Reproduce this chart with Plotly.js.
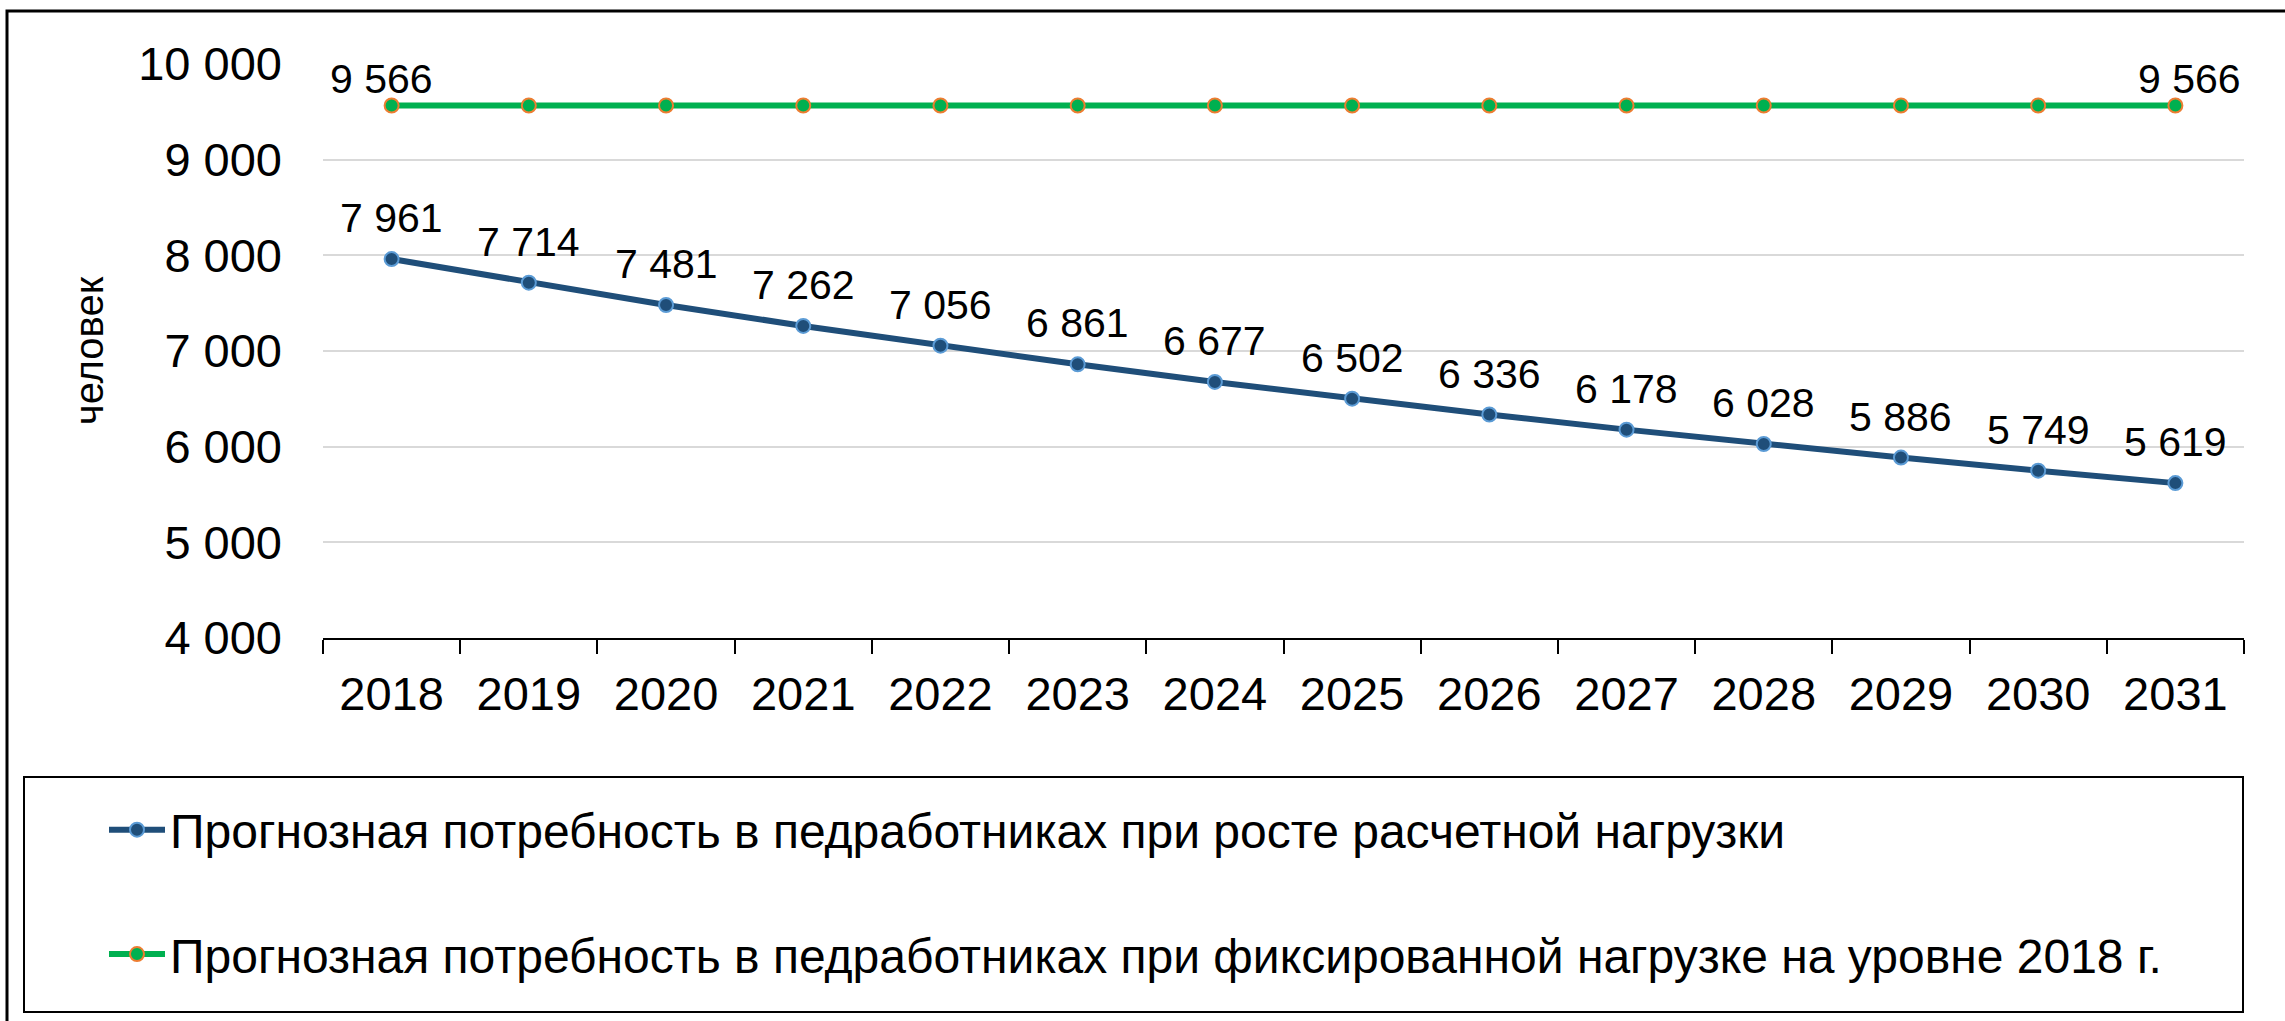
<!DOCTYPE html>
<html>
<head>
<meta charset="utf-8">
<script src="https://cdn.plot.ly/plotly-3.0.1.min.js"></script>
<style>html,body{margin:0;padding:0;background:#fff;}#chart{width:2285px;height:1021px;}</style>
</head>
<body>
<div id="chart"></div>
<script>
// ---- data ----
const years = ['2018','2019','2020','2021','2022','2023','2024','2025','2026','2027','2028','2029','2030','2031'];
const growthLoad = [7961, 7714, 7481, 7262, 7056, 6861, 6677, 6502, 6336, 6178, 6028, 5886, 5749, 5619];
const fixedLoad = [9566, 9566, 9566, 9566, 9566, 9566, 9566, 9566, 9566, 9566, 9566, 9566, 9566, 9566];
const yTickVals = [4000, 5000, 6000, 7000, 8000, 9000, 10000];
const seriesNames = [
  'Прогнозная потребность в педработниках при росте расчетной нагрузки',
  'Прогнозная потребность в педработниках при фиксированной нагрузке на уровне 2018 г.'
];
const yTitle = 'человек';
const fixedLabelIdx = [0, 13];

// ---- helpers ----
const fmt = n => String(n).replace(/\B(?=(\d{3})+(?!\d))/g, ' ');
const W = 2285, H = 1021;
const L = 323, R = 2244, T = 64, B = 638;
const pxX = x => (x - L) / (R - L);
const pxY = y => (B - y) / (B - T);

const FONT = 'Arial, "Liberation Sans", sans-serif';

const traces = [
  {
    x: years, y: growthLoad, type: 'scatter', mode: 'lines+markers',
    name: seriesNames[0], legendgroup: 'a', cliponaxis: false,
    line: {color: '#1F4E79', width: 6},
    marker: {size: 14, color: '#1F4E79', line: {color: '#5B9BD5', width: 2}}
  },
  {
    x: years, y: fixedLoad, type: 'scatter', mode: 'lines+markers',
    name: seriesNames[1], legendgroup: 'b', cliponaxis: false,
    line: {color: '#00B050', width: 6},
    marker: {size: 14, color: '#00B050', line: {color: '#ED7D31', width: 2}}
  }
];

// annotation x uses the category index on the category axis
const annotations = [];
growthLoad.forEach((v, i) => {
  annotations.push({
    x: i, y: v, xref: 'x', yref: 'y', text: fmt(v), showarrow: false,
    yanchor: 'bottom', xanchor: 'center', yshift: 16,
    font: {family: FONT, size: 41, color: '#000'}
  });
});
fixedLabelIdx.forEach((i, k) => {
  annotations.push({
    x: i, y: fixedLoad[i], xref: 'x', yref: 'y', text: fmt(fixedLoad[i]), showarrow: false,
    yanchor: 'bottom', xanchor: 'center', yshift: 2, xshift: k === 0 ? -10 : 14,
    font: {family: FONT, size: 41, color: '#000'}
  });
});

const layout = {
  width: W, height: H,
  margin: {l: L, r: W - R, t: T, b: H - B, pad: 0},
  paper_bgcolor: '#fff', plot_bgcolor: '#fff',
  font: {family: FONT, size: 47, color: '#000'},
  separators: ', ',
  showlegend: true,
  xaxis: {
    type: 'category', categoryorder: 'array', categoryarray: years,
    range: [-0.5, years.length - 0.5], autorange: false,
    showgrid: false, zeroline: false,
    showline: true, linecolor: '#000', linewidth: 2,
    ticks: 'outside', tickson: 'boundaries', ticklen: 14, tickwidth: 2, tickcolor: '#000',
    tickfont: {family: FONT, size: 47, color: '#000'}, tickangle: 0,
    ticklabelstandoff: 14, fixedrange: true
  },
  yaxis: {
    range: [4000, 10000], autorange: false, tickvals: yTickVals, ticktext: yTickVals.map(fmt),
    showgrid: true, gridcolor: '#D9D9D9', gridwidth: 2, zeroline: false,
    showline: false, ticks: '',
    tickfont: {family: FONT, size: 47, color: '#000'},
    ticklabelstandoff: 40, fixedrange: true,
    title: {text: yTitle, font: {family: FONT, size: 40, color: '#000'}, standoff: 22}
  },
  legend: {
    x: pxX(104), y: pxY(792), xanchor: 'left', yanchor: 'top',
    font: {family: FONT, size: 48, color: '#000'},
    bgcolor: 'rgba(0,0,0,0)', borderwidth: 0,
    tracegroupgap: 59, traceorder: 'grouped', itemwidth: 56
  },
  shapes: [
    {type: 'rect', xref: 'paper', yref: 'paper', x0: pxX(7), x1: pxX(2300), y0: pxY(11), y1: pxY(1040),
     line: {color: '#000', width: 3}, fillcolor: 'rgba(0,0,0,0)', layer: 'below'},
    {type: 'rect', xref: 'paper', yref: 'paper', x0: pxX(24), x1: pxX(2243), y0: pxY(777), y1: pxY(1012),
     line: {color: '#000', width: 2}, fillcolor: 'rgba(0,0,0,0)', layer: 'below'}
  ],
  annotations: annotations
};

Plotly.newPlot('chart', traces, layout, {displayModeBar: false, staticPlot: true});
</script>
</body>
</html>
